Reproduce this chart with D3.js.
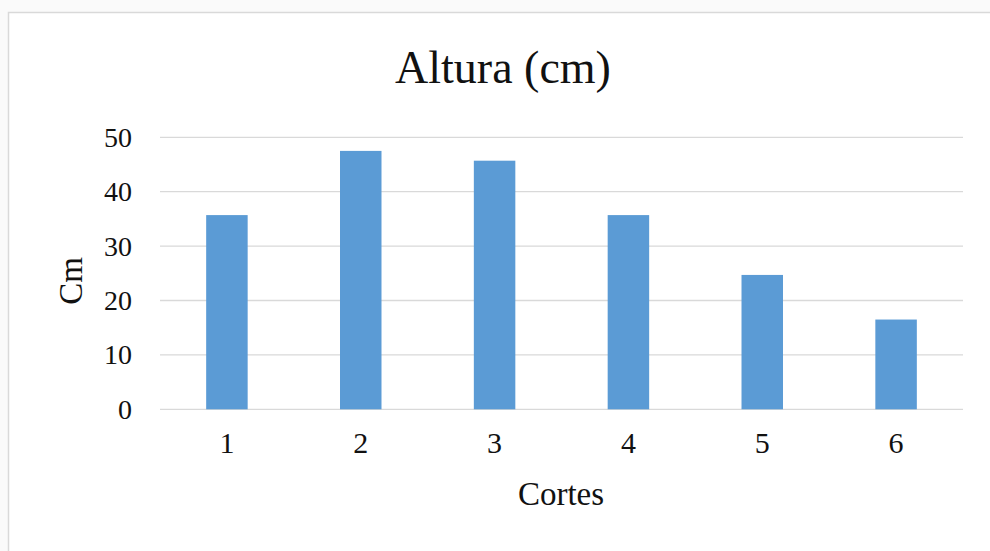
<!DOCTYPE html>
<html>
<head>
<meta charset="utf-8">
<script src="https://cdn.jsdelivr.net/npm/d3@7"></script>
<style>
  html, body { margin: 0; padding: 0; background: #fafafa; }
  svg { display: block; }
  text { font-family: "Liberation Serif", "Times New Roman", serif; fill: #111; }
</style>
</head>
<body>
<svg id="chart" width="990" height="551"></svg>
<script>
// Height per cut
const categories = ["1", "2", "3", "4", "5", "6"];
const values = [35.7, 47.5, 45.7, 35.7, 24.7, 16.5];
const yTicks = [0, 10, 20, 30, 40, 50];

const titleText = "Altura (cm)";
const xTitle = "Cortes";
const yTitle = "Cm";

const W = 990, H = 551;
const margin = { left: 160, right: 27, top: 137.3, bottom: 141.7 };

const svg = d3.select("#chart");

// chart frame
svg.append("rect")
  .attr("x", 8.5).attr("y", 12.5)
  .attr("width", W + 10).attr("height", H + 10)
  .attr("fill", "#ffffff")
  .attr("stroke", "#d9d9d9")
  .attr("stroke-width", 1.5);

const x = d3.scaleBand()
  .domain(categories)
  .range([margin.left, W - margin.right])
  .paddingInner(0.69)
  .paddingOuter(0.345);

const y = d3.scaleLinear()
  .domain([0, 50])
  .range([H - margin.bottom, margin.top]);

// horizontal gridlines
svg.append("g")
  .selectAll("line")
  .data(yTicks)
  .join("line")
  .attr("x1", margin.left).attr("x2", W - margin.right)
  .attr("y1", d => y(d)).attr("y2", d => y(d))
  .attr("stroke", "#d9d9d9")
  .attr("stroke-width", 1.3);

// bars
svg.append("g")
  .selectAll("rect")
  .data(values)
  .join("rect")
  .attr("x", (d, i) => x(categories[i]))
  .attr("width", x.bandwidth())
  .attr("y", d => y(d))
  .attr("height", d => y(0) - y(d))
  .attr("fill", "#5b9bd5");

// y axis labels
const yAxis = d3.axisLeft(y).tickValues(yTicks).tickSize(0).tickPadding(28);
const gy = svg.append("g")
  .attr("transform", `translate(${margin.left},0)`)
  .call(yAxis);
gy.select(".domain").remove();
gy.selectAll("text")
  .style("font-size", "28px")
  .style("font-family", "'Liberation Serif', serif")
  .attr("fill", "#111");

// x axis labels
const xAxis = d3.axisBottom(x).tickSize(0).tickPadding(22);
const gx = svg.append("g")
  .attr("transform", `translate(0,${y(0)})`)
  .call(xAxis);
gx.select(".domain").remove();
gx.selectAll("text")
  .style("font-size", "30px")
  .style("font-family", "'Liberation Serif', serif")
  .attr("fill", "#111");

// title
svg.append("text")
  .attr("x", 503).attr("y", 83)
  .attr("text-anchor", "middle")
  .style("font-size", "46px")
  .text(titleText);

// axis titles
svg.append("text")
  .attr("x", 561).attr("y", 505)
  .attr("text-anchor", "middle")
  .style("font-size", "33px")
  .text(xTitle);

svg.append("text")
  .attr("transform", "translate(82,281) rotate(-90)")
  .attr("text-anchor", "middle")
  .style("font-size", "33px")
  .text(yTitle);
</script>
</body>
</html>
